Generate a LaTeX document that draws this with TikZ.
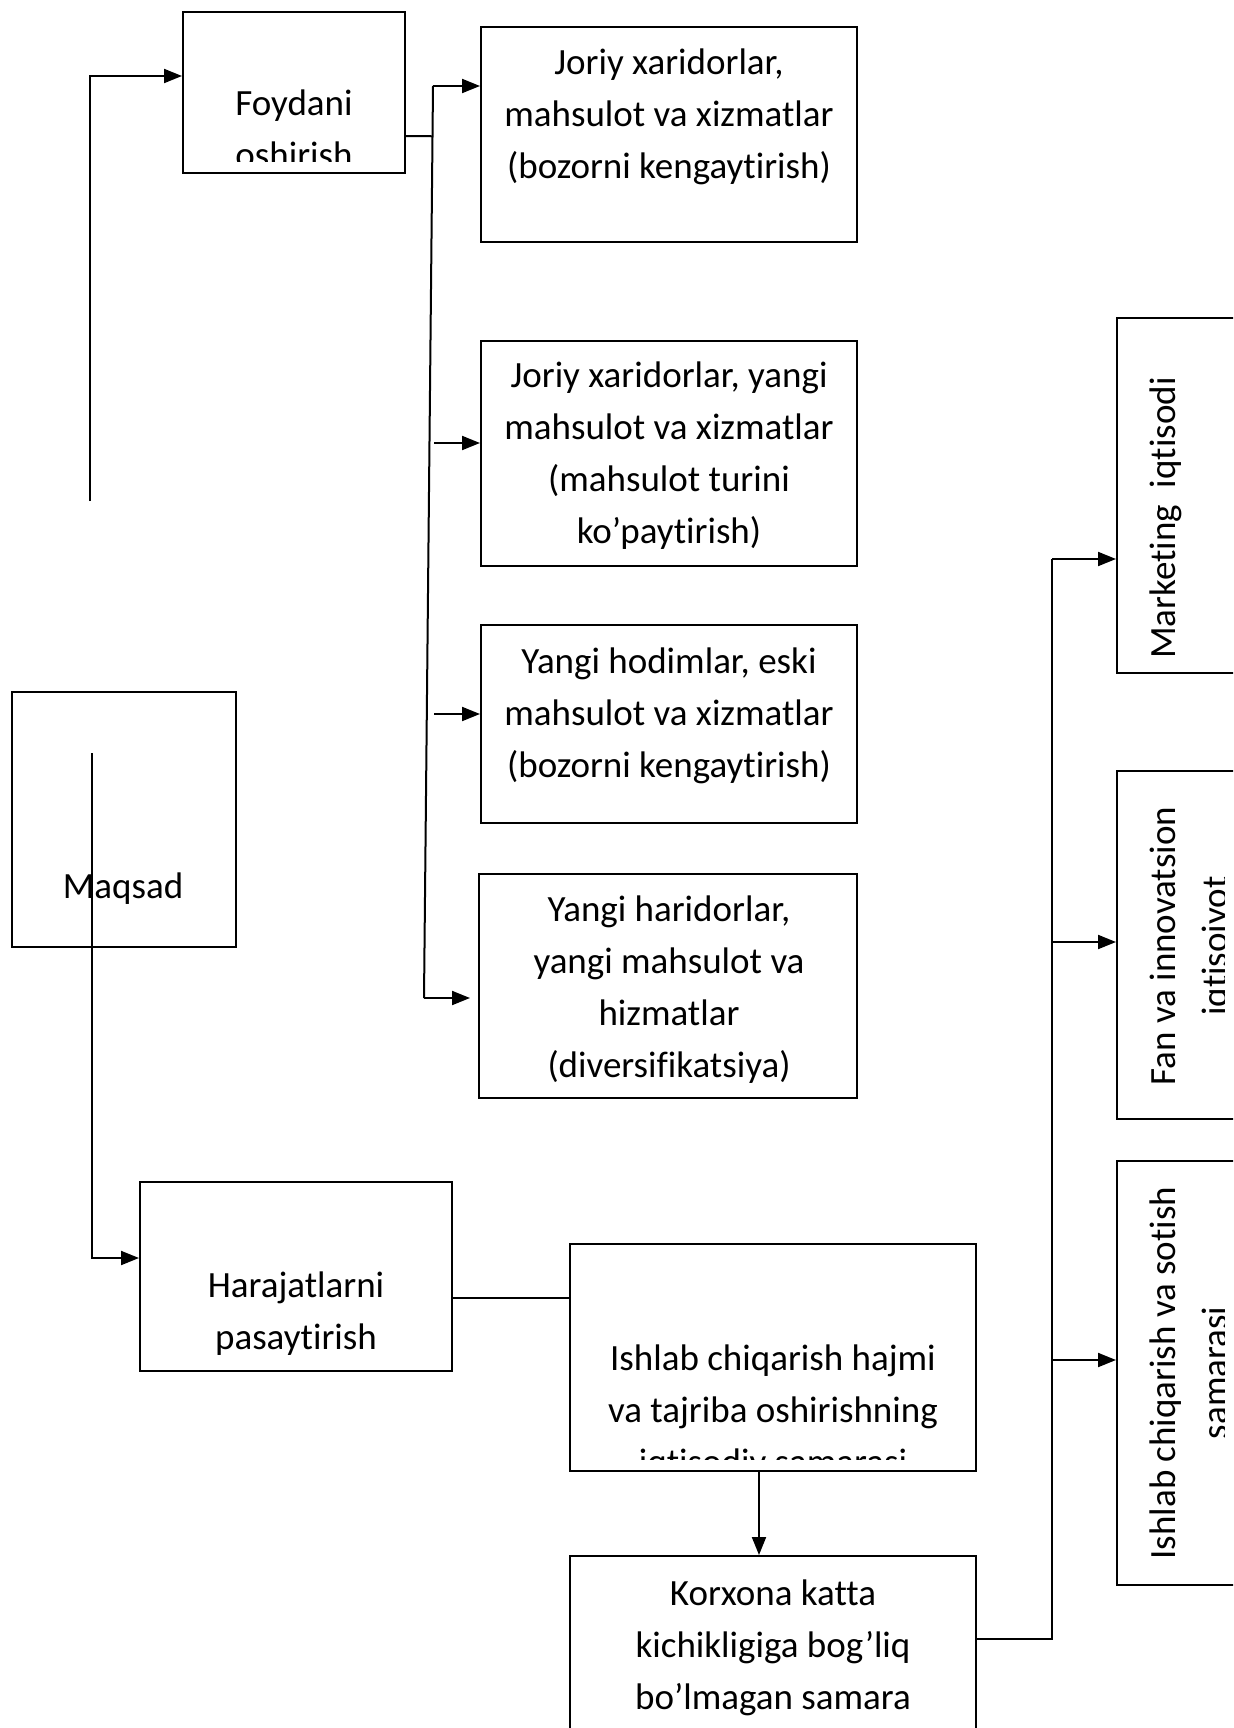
\documentclass[tikz,border=0pt]{standalone}
\usepackage{fontspec}
\setmainfont{Carlito}[Ligatures=NoCommon]
\usetikzlibrary{arrows.meta,fit,calc}
\begin{document}
\begin{tikzpicture}[x=0.5pt,y=-0.5pt,
  box/.style={draw,line width=1pt,inner sep=0pt,rectangle},
  lbl/.style={inner sep=0pt,align=center,anchor=north,font=\fontsize{18.5}{26}\selectfont},
  vlbl/.style={inner sep=0pt,align=center,anchor=north,rotate=90,font=\fontsize{18.5}{26}\selectfont},
  link/.style={line width=1pt},
  arr/.style={line width=1pt,-{Triangle[length=9pt,width=7pt]}}]

\useasboundingbox (0,0) rectangle (1233,1728);
\clip (0,0) rectangle (1233,1728);

% ---- boxes ----
\node[box,fit={(183,12) (405,173)}]   (foyd) {};
\node[box,fit={(481,27) (857,242)}]   (j1) {};
\node[box,fit={(481,341) (857,566)}]  (j2) {};
\node[box,fit={(481,625) (857,823)}]  (j3) {};
\node[box,fit={(479,874) (857,1098)}] (j4) {};
\node[box,fit={(12,692) (236,947)}]   (maq) {};
\node[box,fit={(140,1182) (452,1371)}] (har) {};
\node[box,fit={(570,1244) (976,1471)}] (ish) {};
\node[box,fit={(570,1556) (976,1780)}] (kor) {};
\node[box,fit={(1117,318) (1240,673)}]  (mkt) {};
\node[box,fit={(1117,771) (1240,1119)}] (fan) {};
\node[box,fit={(1117,1161) (1240,1585)}] (sot) {};

% ---- texts ----
\begin{scope}
  \clip (183,12) rectangle (405,162);
  \node[lbl] (foydt) at (294,78.6) {\strut Foydani\\\strut oshirish};
\end{scope}
\node[lbl] (j1t) at (669,38) {\strut Joriy xaridorlar,\\\strut mahsulot va xizmatlar\\\strut (bozorni kengaytirish)};
\node[lbl] (j2t) at (669,350.6) {\strut Joriy xaridorlar, yangi\\\strut mahsulot va xizmatlar\\\strut (mahsulot turini\\\strut ko’paytirish)};
\node[lbl] (j3t) at (669,636.6) {\strut Yangi hodimlar, eski\\\strut mahsulot va xizmatlar\\\strut (bozorni kengaytirish)};
\node[lbl] (j4t) at (669,884.6) {\strut Yangi haridorlar,\\\strut yangi mahsulot va\\\strut hizmatlar\\\strut (diversifikatsiya)};
\node[lbl] (maqt) at (123,861.6) {\strut Maqsad};
\node[lbl] (hart) at (296,1261) {\strut Harajatlarni\\\strut pasaytirish};
\begin{scope}
  \clip (570,1244) rectangle (976,1459);
  \node[lbl] (isht) at (773,1334) {\strut Ishlab chiqarish hajmi\\\strut va tajriba oshirishning\\\strut iqtisodiy samarasi};
\end{scope}
\node[lbl] (kort) at (773,1569) {\strut Korxona katta\\\strut kichikligiga bog’liq\\\strut bo’lmagan samara};
\begin{scope}
  \clip (1117,0) rectangle (1224,1728);
  \node[vlbl] (mktt) at (1138.6,518) {\strut Marketing~ iqtisodi};
  \node[vlbl] (fant) at (1138.6,946) {\strut Fan va innovatsion\\\strut iqtisoiyot};
  \node[vlbl] (sott) at (1138.6,1373) {\strut Ishlab chiqarish va sotish\\\strut samarasi};
\end{scope}

% ---- connectors: upper branch ----
\coordinate (lbot) at (90,501);
\coordinate (ltop) at (90,76);
\draw[arr] (lbot) -- (ltop) -- (ltop -| foyd.west);

\coordinate (fr) at (405,136);
\coordinate (vtop) at (433,86);
\coordinate (vbot) at (424,998);
\draw[link] (vtop) -- (vbot);
\draw[link] (fr) -- ($(vtop)!(fr)!(vbot)$);
\draw[arr] (vtop) -- (vtop -| j1.west);
\coordinate (a2) at (434,443);
\coordinate (a3) at (434,714);
\draw[arr] (a2) -- (a2 -| j2.west);
\draw[arr] (a3) -- (a3 -| j3.west);
\coordinate (a4) at (470,998);
\draw[arr] (vbot) -- (a4);

% ---- connectors: lower branch ----
\coordinate (mtop) at (91.5,753);
\coordinate (mbend) at (91.5,1258);
\draw[arr] (mtop) -- (mbend) -- (mbend -| har.west);

\coordinate (hy) at (0,1298);
\draw[link] (har.east |- hy) -- (ish.west |- hy);

\coordinate (kx) at (759,0);
\draw[arr] (ish.south -| kx) -- (kor.north -| kx);

\coordinate (rbot) at (1052,1639);
\coordinate (rtop) at (1052,559);
\coordinate (r2) at (1052,942);
\coordinate (r3) at (1052,1360);
\draw[link] (kor.east |- rbot) -- (rbot) -- (rtop);
\draw[arr] (rtop) -- (rtop -| mkt.west);
\draw[arr] (r2) -- (r2 -| fan.west);
\draw[arr] (r3) -- (r3 -| sot.west);
\end{tikzpicture}
\end{document}
